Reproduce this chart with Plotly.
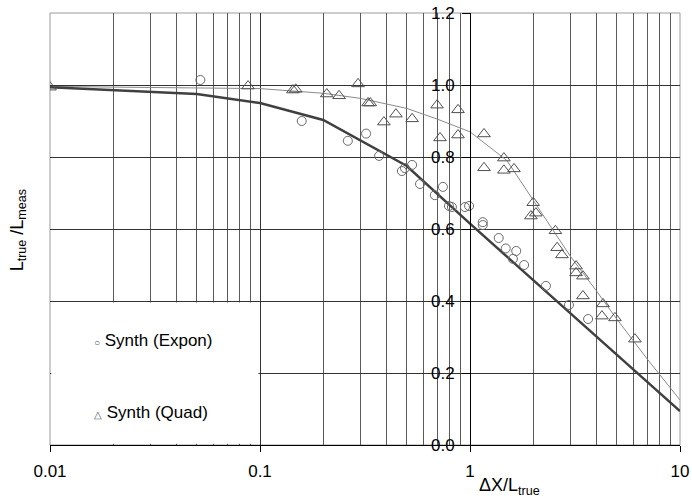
import plotly.graph_objects as go

# ---- data ----
expon_x = [0.052, 0.158, 0.262, 0.320, 0.369, 0.474, 0.490, 0.530, 0.578, 0.680,
           0.743, 0.794, 0.820, 0.946, 0.990, 1.15, 1.15, 1.37, 1.48, 1.60,
           1.66, 1.81, 2.30, 2.96, 3.65]
expon_y = [1.014, 0.900, 0.845, 0.865, 0.803, 0.761, 0.769, 0.778, 0.725, 0.694,
           0.717, 0.664, 0.661, 0.661, 0.664, 0.619, 0.611, 0.575, 0.546, 0.517,
           0.539, 0.500, 0.442, 0.389, 0.350]

quad_x = [0.0100, 0.0877, 0.1435, 0.148, 0.208, 0.238, 0.293, 0.327, 0.335, 0.389,
          0.444, 0.530, 0.697, 0.720, 0.877, 0.877, 1.166, 1.166, 1.45, 1.45,
          1.62, 2.00, 1.95, 2.06, 2.55, 2.60, 2.74, 3.20, 3.20, 3.45,
          3.45, 4.30, 4.25, 4.90, 6.10]
quad_y = [0.994, 0.997, 0.986, 0.988, 0.975, 0.970, 1.003, 0.950, 0.950, 0.897,
          0.919, 0.906, 0.944, 0.853, 0.931, 0.861, 0.864, 0.770, 0.797, 0.763,
          0.767, 0.673, 0.636, 0.644, 0.595, 0.548, 0.528, 0.497, 0.478, 0.469,
          0.414, 0.392, 0.358, 0.353, 0.294]

expon_fit_x = [0.01, 0.05, 0.1, 0.2, 0.5, 1, 2, 5, 10]
expon_fit_y = [0.994, 0.975, 0.950, 0.903, 0.775, 0.615, 0.458, 0.252, 0.094]

quad_fit_x = [0.01, 0.1, 0.2, 0.3, 0.5, 0.7, 1.0, 1.5, 2.0, 3.0, 4.0, 5.0, 7.0, 10]
quad_fit_y = [0.996, 0.990, 0.977, 0.963, 0.935, 0.905, 0.870, 0.790, 0.680, 0.525,
              0.428, 0.350, 0.238, 0.125]

x_tickvals = [0.01, 0.1, 1, 10]
x_ticktext = ["0.01", "0.1", "1", "10"]
x_minor = [m * d for d in [0.01, 0.1, 1] for m in range(2, 10)]
y_tickvals = [0.0, 0.2, 0.4, 0.6, 0.8, 1.0, 1.2]
y_ticktext = ["0.0", "0.2", "0.4", "0.6", "0.8", "1.0", "1.2"]

FONT = "Arial, Liberation Sans, sans-serif"

fig = go.Figure()
fig.add_trace(go.Scatter(x=quad_fit_x, y=quad_fit_y, mode="lines",
                         line=dict(color="#8a8a8a", width=1), showlegend=False,
                         name="Quad fit"))
fig.add_trace(go.Scatter(x=expon_fit_x, y=expon_fit_y, mode="lines",
                         line=dict(color="#404040", width=2.5), showlegend=False,
                         name="Expon fit"))
fig.add_trace(go.Scatter(x=expon_x, y=expon_y, mode="markers", name="Synth (Expon)",
                         marker=dict(symbol="circle-open", size=9,
                                     color="#6a6a6a", line=dict(width=1, color="#6a6a6a")),
                         showlegend=False))
fig.add_trace(go.Scatter(x=quad_x, y=quad_y, mode="markers", name="Synth (Quad)",
                         marker=dict(symbol="triangle-up-open", size=11,
                                     color="#505050", line=dict(width=1, color="#505050")),
                         showlegend=False))

fig.update_layout(
    width=692, height=501,
    margin=dict(l=50, r=12, t=13, b=56),
    paper_bgcolor="white", plot_bgcolor="white",
    font=dict(family=FONT, size=17, color="black"),
    xaxis=dict(type="log", range=[-2, 1], tickvals=x_tickvals, ticktext=x_ticktext,
               automargin=False,
               showgrid=True, gridcolor="#333333", gridwidth=1,
               minor=dict(tickvals=x_minor, showgrid=True, gridcolor="#5a5a5a", gridwidth=1),
               showline=True, linecolor="black", linewidth=1,
               ticks="outside", ticklen=6, tickcolor="black",
               ticklabelstandoff=5, zeroline=False,
               tickfont=dict(family=FONT, size=17, color="black")),
    yaxis=dict(range=[0, 1.2], tickvals=y_tickvals, ticktext=y_ticktext,
               anchor="free", position=2/3, automargin=False,
               showgrid=True, gridcolor="#333333", gridwidth=1,
               showline=True, linecolor="black", linewidth=1,
               ticks="outside", ticklen=8, tickcolor="black",
               ticklabelstandoff=4, zeroline=False,
               tickfont=dict(family=FONT, size=17, color="black")),
    shapes=[
        dict(type="rect", xref="paper", yref="paper", x0=0, x1=1, y0=0, y1=1,
             line=dict(color="#9a9a9a", width=1), layer="below"),
        dict(type="rect", xref="paper", yref="paper", x0=0.002, x1=0.331, y0=0.003, y1=0.330,
             fillcolor="white", line=dict(width=0), layer="above"),
    ],
    annotations=[
        dict(xref="paper", yref="paper", x=0.73, y=-0.095, xanchor="center", yanchor="middle",
             text="ΔX/L<sub>true</sub>", showarrow=False,
             font=dict(family=FONT, size=18, color="black")),
        dict(xref="paper", yref="paper", x=-0.05, y=0.498, xanchor="center", yanchor="middle",
             text="L<sub>true</sub> /L<sub>meas</sub>", textangle=-90, showarrow=False,
             font=dict(family=FONT, size=18, color="black")),
        dict(xref="paper", yref="paper", x=0.066, y=0.243, xanchor="left", yanchor="middle",
             text="<span style='font-size:10px;color:#555'>○</span> Synth (Expon)", showarrow=False,
             font=dict(family=FONT, size=17, color="black")),
        dict(xref="paper", yref="paper", x=0.066, y=0.076, xanchor="left", yanchor="middle",
             text="<span style='font-size:10px;color:#555'>△</span> Synth (Quad)", showarrow=False,
             font=dict(family=FONT, size=17, color="black")),
    ],
)

fig.write_html("out.html")
